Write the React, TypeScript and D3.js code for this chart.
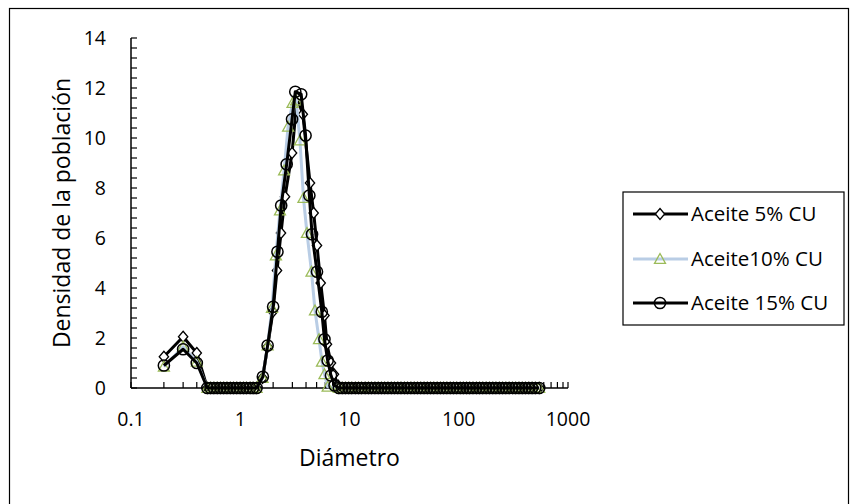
import React from "react";
import * as d3 from "d3";

// ---- data ----
const smallX = [0.2, 0.3, 0.4];
const small5 = [1.25, 2.05, 1.4];
const small10 = [0.85, 1.65, 1.05];
const small15 = [0.9, 1.55, 1.0];

const lowZeroX = [0.5, 0.536, 0.574, 0.615, 0.659, 0.706, 0.756, 0.81, 0.868, 0.93, 0.997, 1.07, 1.14, 1.23, 1.31, 1.41];
const lowZeroY = [0, 0, 0, 0, 0, 0, 0, 0, 0, 0, 0, 0, 0, 0, 0, 0];

const peak5X = [1.6, 1.78, 1.99, 2.17, 2.36, 2.57, 2.98, 3.31, 3.74, 4.35, 4.7, 5.04, 5.45, 5.9, 6.22, 6.77, 7.21, 7.85];
const peak5Y = [0.4, 1.65, 3.05, 4.7, 6.2, 7.65, 9.4, 11.6, 10.95, 8.2, 7.0, 5.7, 4.2, 2.9, 1.75, 1.0, 0.55, 0.1];

const peak10X = [1.6, 1.78, 1.95, 2.12, 2.31, 2.52, 2.74, 3.01, 3.25, 3.52, 3.79, 4.08, 4.49, 4.83, 5.26, 5.6, 5.9, 6.31];
const peak10Y = [0.4, 1.7, 3.2, 5.3, 7.1, 8.7, 10.45, 11.4, 11.5, 9.9, 7.6, 6.2, 4.65, 3.1, 1.95, 1.05, 0.55, 0.05];

const peak15X = [1.61, 1.78, 2.0, 2.19, 2.37, 2.66, 2.98, 3.19, 3.61, 3.96, 4.29, 4.54, 5.04, 5.58, 5.9, 6.31, 6.77, 7.3];
const peak15Y = [0.45, 1.7, 3.25, 5.45, 7.3, 8.95, 10.75, 11.85, 11.75, 10.1, 7.7, 6.15, 4.65, 3.05, 1.95, 1.1, 0.5, 0.1];

const highZeroX = [
  8.0, 8.57, 9.18, 9.84, 10.5, 11.3, 12.1, 12.9, 13.9, 14.9, 15.9, 17.1, 18.3, 19.6, 21.0, 22.5,
  24.1, 25.8, 27.7, 29.6, 31.8, 34.0, 36.5, 39.1, 41.9, 44.9, 48.1, 51.5, 55.2, 59.1, 63.4, 67.9,
  72.7, 77.9, 83.5, 89.5, 95.9, 103, 110, 118, 126, 135, 145, 155, 166, 178, 191, 205, 219, 235,
  252, 270, 289, 310, 332, 356, 381, 408, 438, 469, 502, 545,
];
const highZeroY = highZeroX.map(() => 0);

const seriesNames = ["Aceite 5% CU", "Aceite10% CU", "Aceite 15% CU"];
const xTickLabels = ["0.1", "1", "10", "100", "1000"];
const xTickValues = [0.1, 1, 10, 100, 1000];
const yTickValues = [0, 2, 4, 6, 8, 10, 12, 14];

const xTitle = "Diámetro";
const yTitle = "Densidad de la población";

type Pt = { x: number; y: number };
function build(xs: number[][], ys: number[][]): Pt[] {
  const out: Pt[] = [];
  xs.forEach((arr, i) => arr.forEach((x, j) => out.push({ x, y: ys[i][j] })));
  return out;
}

const s5 = build([smallX, lowZeroX, peak5X, highZeroX], [small5, lowZeroY, peak5Y, highZeroY]);
const s10 = build([smallX, lowZeroX, peak10X, highZeroX], [small10, lowZeroY, peak10Y, highZeroY]);
const s15 = build([smallX, lowZeroX, peak15X, highZeroX], [small15, lowZeroY, peak15Y, highZeroY]);

const FONT = "'Open Sans', 'DejaVu Sans', sans-serif";
const GREEN = "#9BBB59";
const PALE = "#B9CDE5";

function Diamond({ cx, cy }: { cx: number; cy: number }) {
  const s = 5.5;
  return (
    <path
      d={`M${cx},${cy - s}L${cx + s * 0.85},${cy}L${cx},${cy + s}L${cx - s * 0.85},${cy}Z`}
      fill="white"
      stroke="black"
      strokeWidth={1.3}
    />
  );
}
function Tri({ cx, cy }: { cx: number; cy: number }) {
  const s = 5.5;
  return (
    <path
      d={`M${cx},${cy - s}L${cx + s},${cy + s * 0.8}L${cx - s},${cy + s * 0.8}Z`}
      fill="none"
      stroke={GREEN}
      strokeWidth={1.3}
    />
  );
}
function Circ({ cx, cy }: { cx: number; cy: number }) {
  return <circle cx={cx} cy={cy} r={5.6} fill="none" stroke="black" strokeWidth={1.5} />;
}

export default function App() {
  const W = 850;
  const H = 504;
  const x = d3.scaleLog().domain([0.1, 1000]).range([131, 568]);
  const y = d3.scaleLinear().domain([0, 14]).range([388, 38]);
  const line = d3
    .line<Pt>()
    .x((d) => x(d.x))
    .y((d) => y(d.y));

  const minorX: number[] = [];
  [0.1, 1, 10, 100].forEach((dec) => {
    for (let k = 2; k <= 9; k++) minorX.push(dec * k);
  });
  const minorY = d3.range(0, 14.001, 0.4);

  const legY = [214, 259, 303];

  return (
    <svg
      width={W}
      height={H}
      style={{ position: "absolute", left: 0, top: 0, background: "white" }}
      fontFamily={FONT}
    >
      <rect x={9.5} y={8.5} width={839} height={500} fill="white" stroke="black" strokeWidth={1.2} />

      {/* axes */}
      <line x1={131} x2={131} y1={y(14)} y2={y(0)} stroke="black" strokeWidth={1.5} />
      <line x1={131} x2={568} y1={y(0)} y2={y(0)} stroke="black" strokeWidth={1.5} />
      {minorY.map((v, i) => (
        <line key={"my" + i} x1={131} x2={137} y1={y(v)} y2={y(v)} stroke="black" strokeWidth={1.2} />
      ))}
      {minorX.map((v, i) => (
        <line key={"mx" + i} x1={x(v)} x2={x(v)} y1={y(0)} y2={y(0) - 6} stroke="black" strokeWidth={1.2} />
      ))}
      {xTickValues.map((v) => (
        <line key={"Mx" + v} x1={x(v)} x2={x(v)} y1={y(0)} y2={y(0) - 6} stroke="black" strokeWidth={1.2} />
      ))}

      {yTickValues.map((v) => (
        <text key={"yl" + v} x={106} y={y(v)} dy="0.36em" textAnchor="end" fontSize={19.5} fill="#000">
          {v}
        </text>
      ))}
      {xTickValues.map((v, i) => (
        <text key={"xl" + v} x={x(v)} y={426} textAnchor="middle" fontSize={19.5} fill="#000">
          {xTickLabels[i]}
        </text>
      ))}

      <text x={349.5} y={466} textAnchor="middle" fontSize={23} fill="#000">
        {xTitle}
      </text>
      <text transform={`translate(70,213) rotate(-90)`} textAnchor="middle" fontSize={23} fill="#000">
        {yTitle}
      </text>

      {/* series */}
      <path d={line(s5) || ""} fill="none" stroke="black" strokeWidth={3} strokeLinejoin="round" />
      {s5.map((d, i) => (
        <Diamond key={"d" + i} cx={x(d.x)} cy={y(d.y)} />
      ))}
      <path d={line(s10) || ""} fill="none" stroke={PALE} strokeWidth={3} strokeLinejoin="round" />
      {s10.map((d, i) => (
        <Tri key={"t" + i} cx={x(d.x)} cy={y(d.y)} />
      ))}
      <path d={line(s15) || ""} fill="none" stroke="black" strokeWidth={3} strokeLinejoin="round" />
      {s15.map((d, i) => (
        <Circ key={"c" + i} cx={x(d.x)} cy={y(d.y)} />
      ))}

      {/* legend */}
      <rect x={623} y={192} width={221} height={133} fill="white" stroke="black" strokeWidth={1.2} />
      <line x1={633} x2={688} y1={legY[0]} y2={legY[0]} stroke="black" strokeWidth={3} />
      <Diamond cx={660} cy={legY[0]} />
      <line x1={633} x2={688} y1={legY[1]} y2={legY[1]} stroke={PALE} strokeWidth={3} />
      <Tri cx={660} cy={legY[1]} />
      <line x1={633} x2={688} y1={legY[2]} y2={legY[2]} stroke="black" strokeWidth={3} />
      <Circ cx={660} cy={legY[2]} />
      {seriesNames.map((n, i) => (
        <text key={n} x={691} y={legY[i]} dy="0.36em" fontSize={20.5} fill="#000">
          {n}
        </text>
      ))}
    </svg>
  );
}
